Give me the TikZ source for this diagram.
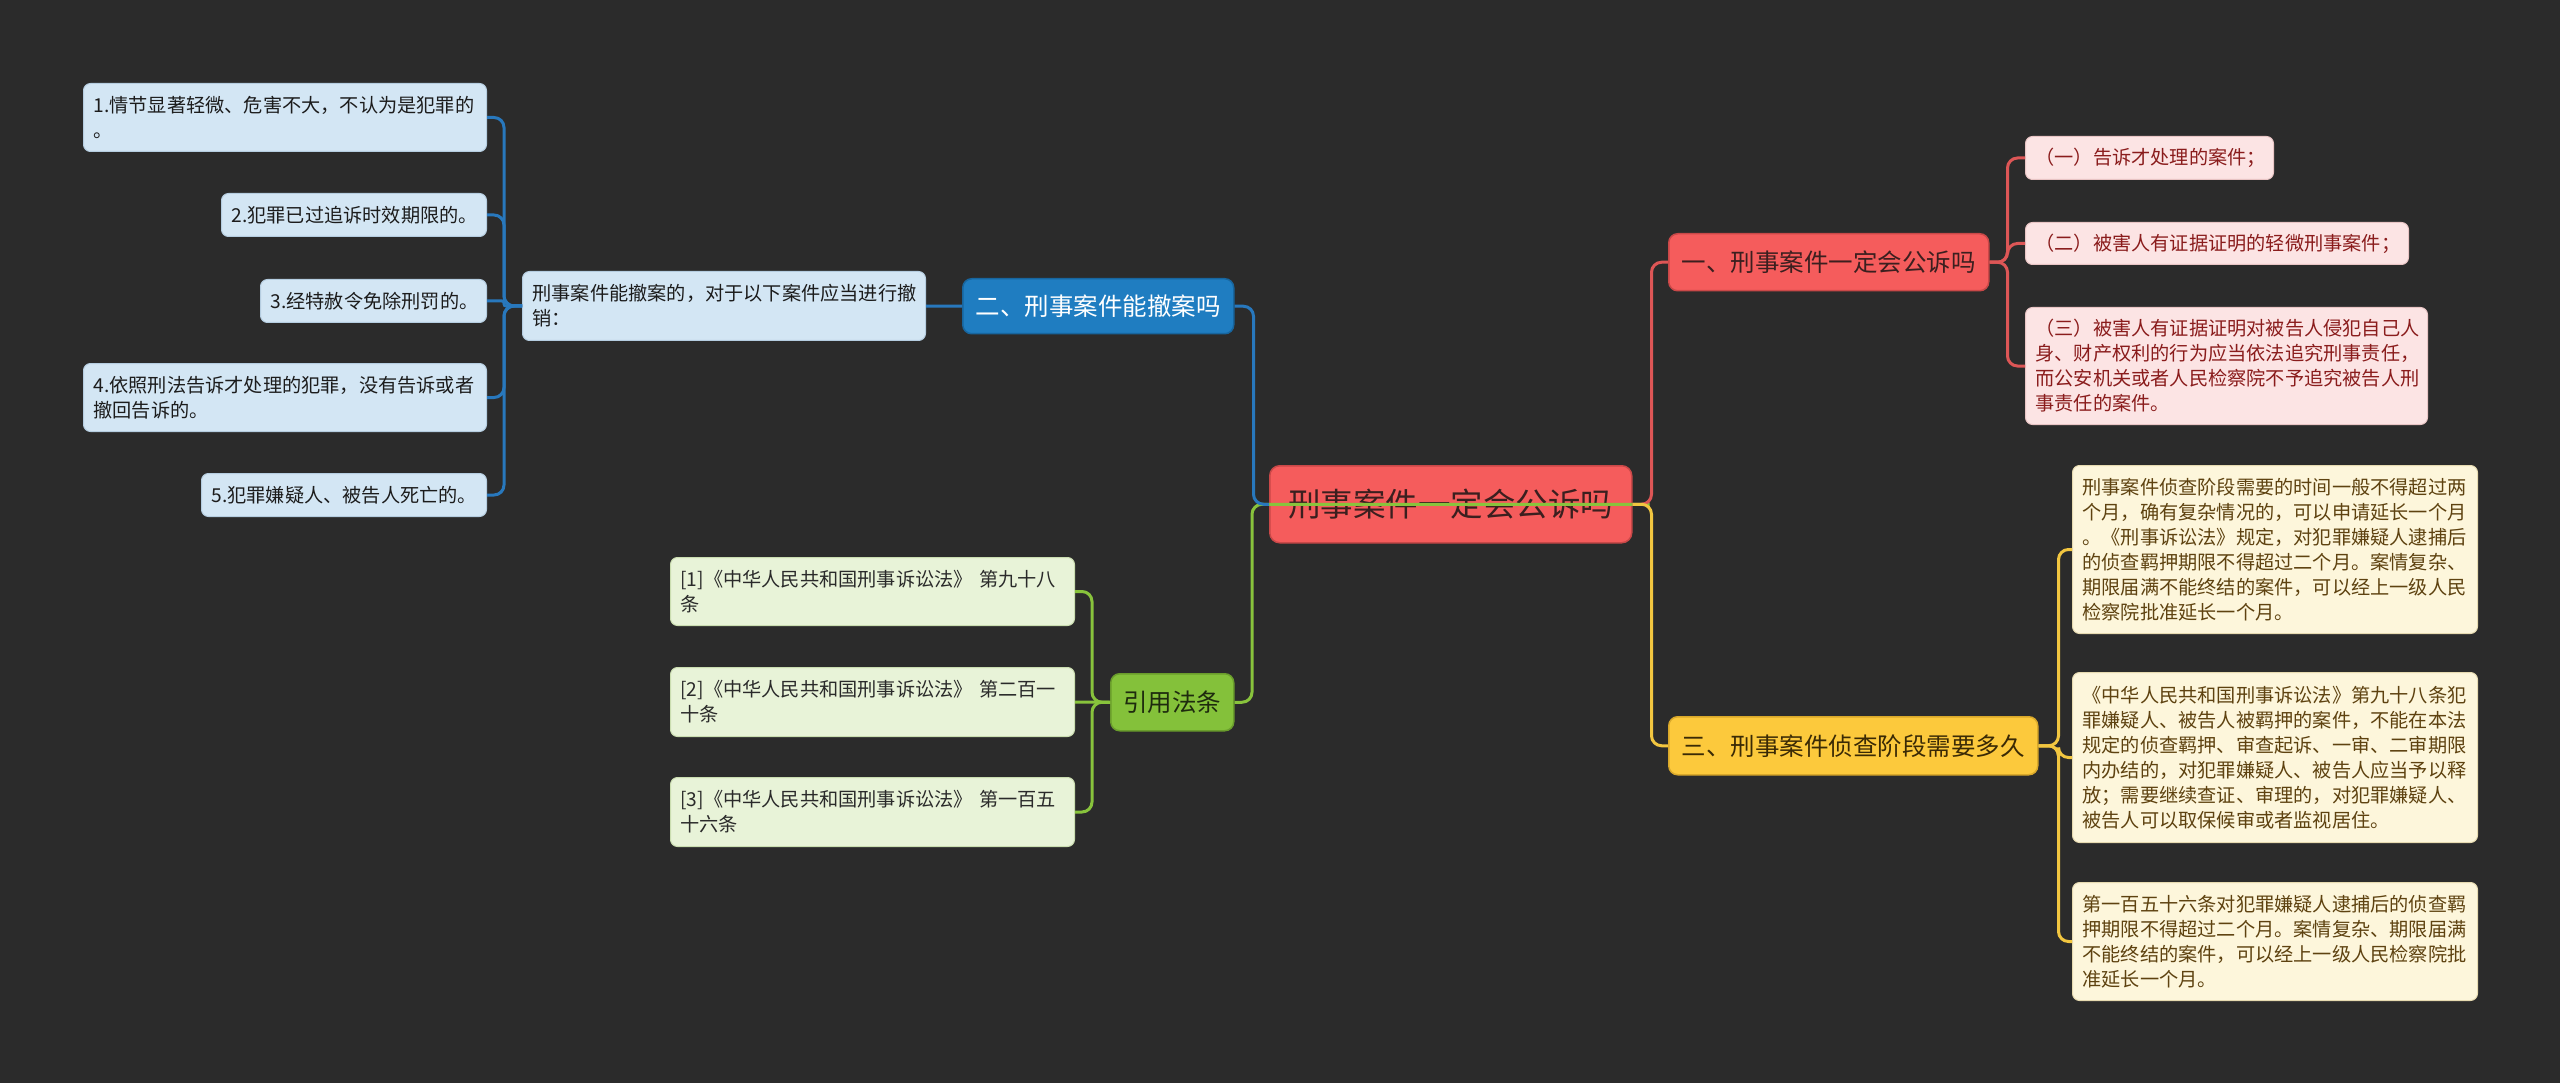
\documentclass[tikz,border=0pt]{standalone}
\usepackage{fontspec}
\setmainfont{Noto Sans CJK SC}
\usetikzlibrary{calc}
\definecolor{bg}{HTML}{2B2B2B}
\definecolor{lbfill}{HTML}{D3E6F4}
\definecolor{lbdraw}{HTML}{B5CDE0}
\definecolor{lbtext}{HTML}{1C1C1C}
\definecolor{bmfill}{HTML}{1F7DC1}
\definecolor{bmdraw}{HTML}{17659E}
\definecolor{bline}{HTML}{2878BD}
\definecolor{pkfill}{HTML}{FCE4E4}
\definecolor{pkdraw}{HTML}{E8C4C4}
\definecolor{pktext}{HTML}{8A1C1C}
\definecolor{rmfill}{HTML}{F55C5C}
\definecolor{rmdraw}{HTML}{C94848}
\definecolor{rmtext}{HTML}{3B1F1F}
\definecolor{rline}{HTML}{DD5656}
\definecolor{gnfill}{HTML}{E8F3D8}
\definecolor{gndraw}{HTML}{CADDB0}
\definecolor{gntext}{HTML}{2A2A2A}
\definecolor{gmfill}{HTML}{84C13A}
\definecolor{gmdraw}{HTML}{6A9D2C}
\definecolor{gmtext}{HTML}{1E2B0E}
\definecolor{gline}{HTML}{88C33C}
\definecolor{ylfill}{HTML}{FDF6DB}
\definecolor{yldraw}{HTML}{E6DAB0}
\definecolor{yltext}{HTML}{5E4210}
\definecolor{ymfill}{HTML}{FCC93C}
\definecolor{ymdraw}{HTML}{D9A82A}
\definecolor{ymtext}{HTML}{3A2A05}
\definecolor{yline}{HTML}{F2C640}
\tikzset{
  leafbase/.style={anchor=north west, rounded corners=7, line width=1, inner xsep=10, inner ysep=0, align=left, font=\fontsize{19.2}{25}\selectfont},
  lbleaf/.style={leafbase, fill=lbfill, draw=lbdraw, text=lbtext},
  pkleaf/.style={leafbase, fill=pkfill, draw=pkdraw, text=pktext},
  gnleaf/.style={leafbase, fill=gnfill, draw=gndraw, text=gntext},
  ylleaf/.style={leafbase, fill=ylfill, draw=yldraw, text=yltext},
  mainbase/.style={anchor=north west, rounded corners=9, line width=1.5, inner sep=0, align=center, font=\fontsize{24.5}{30}\selectfont},
  bmain/.style={mainbase, fill=bmfill, draw=bmdraw, text=white},
  rmain/.style={mainbase, fill=rmfill, draw=rmdraw, text=rmtext},
  gmain/.style={mainbase, fill=gmfill, draw=gmdraw, text=gmtext},
  ymain/.style={mainbase, fill=ymfill, draw=ymdraw, text=ymtext},
  conn/.style={line width=3, rounded corners=10},
  bconn/.style={conn, draw=bline},
  rconn/.style={conn, draw=rline},
  gconn/.style={conn, draw=gline},
  yconn/.style={conn, draw=yline},
}
\begin{document}
\begin{tikzpicture}[x=1pt,y=-1pt]
\fill[bg] (0,0) rectangle (2560,1083);
\useasboundingbox (0,0) rectangle (2560,1083);

% root
\node[rmain, minimum width=362, minimum height=77, font=\fontsize{32.5}{38}\selectfont, rounded corners=10] (root) at (1269,465) {刑事案件一定会公诉吗};

% blue branch
\node[bmain, minimum width=271, minimum height=55] (B2) at (962,278) {二、刑事案件能撤案吗};
\node[lbleaf, minimum height=69, text width=383] (H) at (522,271) {刑事案件能撤案的，对于以下案件应当进行撤\\销：};
\node[lbleaf, minimum height=68, text width=383] (L1) at (83,83) {1.情节显著轻微、危害不大，不认为是犯罪的\\。};
\node[lbleaf, minimum height=43, text width=245] (L2) at (221,193) {2.犯罪已过追诉时效期限的。};
\node[lbleaf, minimum height=43, text width=206] (L3) at (260,279) {3.经特赦令免除刑罚的。};
\node[lbleaf, minimum height=68, text width=383] (L4) at (83,363) {4.依照刑法告诉才处理的犯罪，没有告诉或者\\撤回告诉的。};
\node[lbleaf, minimum height=43, text width=265] (L5) at (201,473) {5.犯罪嫌疑人、被告人死亡的。};

% green branch
\node[gmain, minimum width=123, minimum height=57] (G) at (1110,673) {引用法条};
\node[gnleaf, minimum height=68, text width=384] (C1) at (670,557) {[1]《中华人民共和国刑事诉讼法》 第九十八\\条};
\node[gnleaf, minimum height=69, text width=384] (C2) at (670,667) {[2]《中华人民共和国刑事诉讼法》 第二百一\\十条};
\node[gnleaf, minimum height=69, text width=384] (C3) at (670,777) {[3]《中华人民共和国刑事诉讼法》 第一百五\\十六条};

% red branch
\node[rmain, minimum width=320, minimum height=57] (R) at (1668,233) {一、刑事案件一定会公诉吗};
\node[pkleaf, minimum height=43, text width=228] (P1) at (2025,136) {（一）告诉才处理的案件；};
\node[pkleaf, minimum height=42, text width=363] (P2) at (2025,222) {（二）被害人有证据证明的轻微刑事案件；};
\node[pkleaf, minimum height=117, text width=382] (P3) at (2025,307) {（三）被害人有证据证明对被告人侵犯自己人\\身、财产权利的行为应当依法追究刑事责任，\\而公安机关或者人民检察院不予追究被告人刑\\事责任的案件。};

% yellow branch
\node[ymain, minimum width=369, minimum height=58] (Y) at (1668,716) {三、刑事案件侦查阶段需要多久};
\node[ylleaf, minimum height=168, text width=385] (Y1) at (2072,465) {刑事案件侦查阶段需要的时间一般不得超过两\\个月，确有复杂情况的，可以申请延长一个月\\。《刑事诉讼法》规定，对犯罪嫌疑人逮捕后\\的侦查羁押期限不得超过二个月。案情复杂、\\期限届满不能终结的案件，可以经上一级人民\\检察院批准延长一个月。};
\node[ylleaf, minimum height=170, text width=385] (Y2) at (2072,672) {《中华人民共和国刑事诉讼法》第九十八条犯\\罪嫌疑人、被告人被羁押的案件，不能在本法\\规定的侦查羁押、审查起诉、一审、二审期限\\内办结的，对犯罪嫌疑人、被告人应当予以释\\放；需要继续查证、审理的，对犯罪嫌疑人、\\被告人可以取保候审或者监视居住。};
\node[ylleaf, minimum height=118, text width=385] (Y3) at (2072,882) {第一百五十六条对犯罪嫌疑人逮捕后的侦查羁\\押期限不得超过二个月。案情复杂、期限届满\\不能终结的案件，可以经上一级人民检察院批\\准延长一个月。};

% connectors
\draw[gconn] ($(root.east)+(17,0)$) -- ($(root.west)+(-17,0)$) |- (G.east);
\foreach \n in {C1,C3} \draw[gconn] (G.west) -- ++(-18,0) |- (\n.east);
\draw[gconn] (G.west) -- (C2.east);

\draw[bconn] (B2.east) -- ++(19,0) |- (root.west);
\draw[bconn] (H.east) -- (B2.west);
\foreach \n in {L1,L2,L4,L5} \draw[bconn] (H.west) -- ++(-18,0) |- (\n.east);
\draw[bconn, rounded corners=2] (H.west) -- ++(-18,0) |- (L3.east);

\draw[rconn] (root.east) -- ++(19,0) |- (R.west);
\foreach \n in {P1,P2,P3} \draw[rconn] (R.east) -- ++(18,0) |- (\n.west);

\draw[yconn] (root.east) -- ++(19,0) |- (Y.west);
\foreach \n in {Y1,Y2,Y3} \draw[yconn] (Y.east) -- ++(20,0) |- (\n.west);
\end{tikzpicture}
\end{document}
